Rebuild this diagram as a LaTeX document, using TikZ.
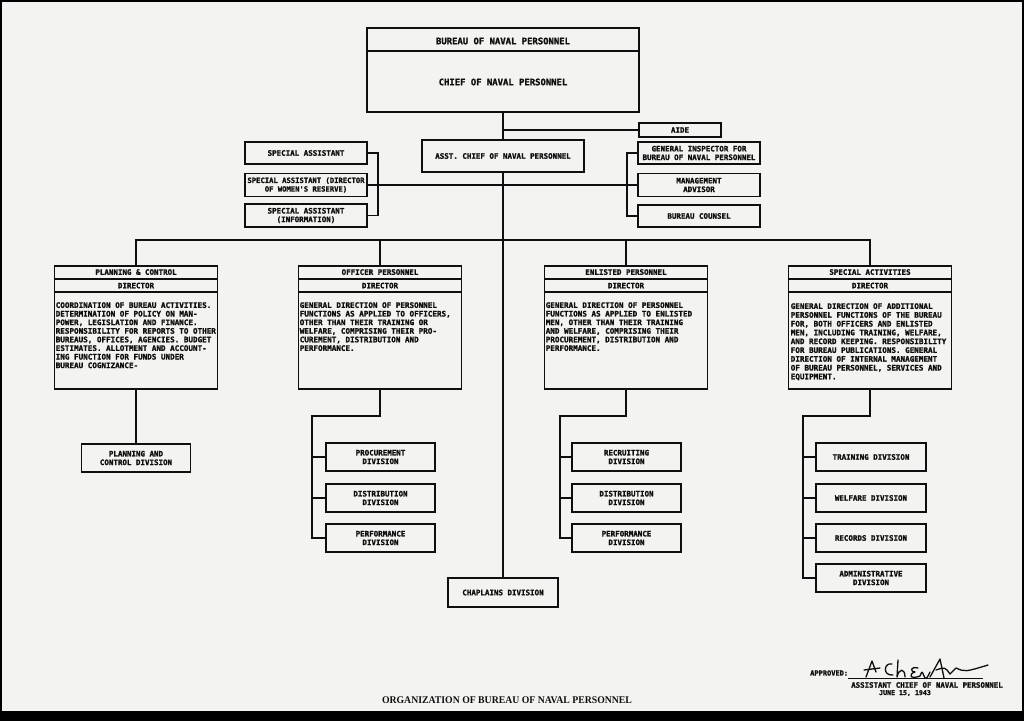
\documentclass[tikz,border=0pt]{standalone}
\usepackage{fontspec}
\usepackage{graphicx}
\setmonofont{DejaVu Sans Mono}[BoldFeatures={FakeBold=1.6}]
\newfontfamily\titlefont{Liberation Serif}
\definecolor{paper}{RGB}{243,243,241}
\definecolor{ink}{RGB}{15,15,15}
\begin{document}
\begin{tikzpicture}[x=1pt,y=-1pt,
  box/.style={draw=ink, line width=1.9pt, fill=paper, rectangle, inner sep=0pt, align=center,
              text=ink, font=\ttfamily\bfseries\fontsize{7.5}{8.6}\selectfont},
  wire/.style={draw=ink, line width=1.9pt},
  lbl/.style={inner sep=0pt, text=ink, font=\ttfamily\bfseries\fontsize{7.5}{8.6}\selectfont},
  big/.style={inner sep=0pt, text=ink, font=\ttfamily\bfseries\fontsize{8.9}{10}\selectfont},
  body/.style={inner sep=0pt, align=left, anchor=north west, text=ink,
               font=\ttfamily\bfseries\fontsize{7.6}{8.6}\selectfont},
  director/.style={box, minimum width=163pt, minimum height=123pt},
  division/.style={box, minimum width=109pt, minimum height=28pt},
  staff/.style={box, minimum width=122pt, minimum height=22pt},
]
% paper and frame
\fill[black] (0,0) rectangle (1024,721);
\fill[paper] (2,2) rectangle (1022,711);
\useasboundingbox (0,0) rectangle (1024,721);

% ---------- top ----------
\node[box, minimum width=272pt, minimum height=84pt] (top) at (503,70) {};
\draw[wire] ([yshift=-24pt]top.north west) -- ([yshift=-24pt]top.north east);
\node[big] (bnp) at (503,41) {BUREAU OF NAVAL PERSONNEL};
\node[big] (cnp) at (503,82) {CHIEF OF NAVAL PERSONNEL};

\node[box, minimum width=82pt, minimum height=14pt] (aide) at (680,130) {AIDE};
\node[box, minimum width=162pt, minimum height=32pt] (asst) at (503,156) {ASST. CHIEF OF NAVAL PERSONNEL};

\node[staff] (sa1) at (306,153) {SPECIAL ASSISTANT};
\node[staff, minimum height=23pt, font=\ttfamily\bfseries\fontsize{7.2}{8.6}\selectfont] (sa2) at (306,185) {SPECIAL ASSISTANT (DIRECTOR\\OF WOMEN'S RESERVE)};
\node[staff, minimum height=23pt] (sa3) at (306,215.5) {SPECIAL ASSISTANT\\(INFORMATION)};

\node[staff] (gi) at (699,153) {GENERAL INSPECTOR FOR\\BUREAU OF NAVAL PERSONNEL};
\node[staff, minimum height=23pt] (ma) at (699,185) {MANAGEMENT\\ADVISOR};
\node[staff] (bc) at (699,216) {BUREAU COUNSEL};

\node[box, minimum width=110pt, minimum height=29pt] (chap) at (503,592.5) {CHAPLAINS DIVISION};

\coordinate (lb) at (378,185);
\coordinate (rb) at (627,185);
\coordinate (bus) at (503,240);

% ---------- directors ----------
\node[director] (pc) at (136,327.5) {};
\node[director] (op) at (380,327.5) {};
\node[director] (ep) at (626,327.5) {};
\node[director] (sp) at (870,327.5) {};
\foreach \d in {pc,op,ep,sp}{
  \draw[wire] ([yshift=-14pt]\d.north west) -- ([yshift=-14pt]\d.north east);
  \draw[wire] ([yshift=-27pt]\d.north west) -- ([yshift=-27pt]\d.north east);
  \node[lbl] (\d dir) at ([yshift=-20.5pt]\d.north) {DIRECTOR};
}
\node[lbl] (pchead) at ([yshift=-7pt]pc.north) {PLANNING \& CONTROL};
\node[lbl] (ophead) at ([yshift=-7pt]op.north) {OFFICER PERSONNEL};
\node[lbl] (ephead) at ([yshift=-7pt]ep.north) {ENLISTED PERSONNEL};
\node[lbl] (sphead) at ([yshift=-7pt]sp.north) {SPECIAL ACTIVITIES};

\node[body] (pcbody) at ([xshift=2pt,yshift=-37pt]pc.north west) {COORDINATION OF BUREAU ACTIVITIES.\\DETERMINATION OF POLICY ON MAN-\\POWER, LEGISLATION AND FINANCE.\\RESPONSIBILITY FOR REPORTS TO OTHER\\BUREAUS, OFFICES, AGENCIES. BUDGET\\ESTIMATES.  ALLOTMENT AND ACCOUNT-\\ING FUNCTION FOR FUNDS UNDER\\BUREAU COGNIZANCE-};
\node[body] (opbody) at ([xshift=2pt,yshift=-37pt]op.north west) {GENERAL DIRECTION OF PERSONNEL\\FUNCTIONS AS APPLIED TO OFFICERS,\\OTHER THAN THEIR TRAINING OR\\WELFARE, COMPRISING THEIR PRO-\\CUREMENT, DISTRIBUTION AND\\PERFORMANCE.};
\node[body] (epbody) at ([xshift=2pt,yshift=-37pt]ep.north west) {GENERAL DIRECTION OF PERSONNEL\\FUNCTIONS AS APPLIED TO ENLISTED\\MEN, OTHER THAN THEIR TRAINING\\AND WELFARE, COMPRISING THEIR\\PROCUREMENT, DISTRIBUTION AND\\PERFORMANCE.};
\node[body, font=\ttfamily\bfseries\fontsize{7.6}{8.8}\selectfont] (spbody) at ([xshift=3pt,yshift=-38pt]sp.north west) {GENERAL DIRECTION OF ADDITIONAL\\PERSONNEL FUNCTIONS OF THE BUREAU\\FOR, BOTH OFFICERS AND ENLISTED\\MEN, INCLUDING TRAINING, WELFARE,\\AND RECORD KEEPING. RESPONSIBILITY\\FOR BUREAU PUBLICATIONS. GENERAL\\DIRECTION OF INTERNAL MANAGEMENT\\OF BUREAU PERSONNEL, SERVICES AND\\EQUIPMENT.};

% ---------- divisions ----------
\node[division] (pcdiv) at (136,458) {PLANNING AND\\CONTROL DIVISION};

\node[division] (ob1) at (380.5,457) {PROCUREMENT\\DIVISION};
\node[division] (ob2) at (380.5,498) {DISTRIBUTION\\DIVISION};
\node[division] (ob3) at (380.5,538) {PERFORMANCE\\DIVISION};

\node[division] (eb1) at (626.5,457) {RECRUITING\\DIVISION};
\node[division] (eb2) at (626.5,498) {DISTRIBUTION\\DIVISION};
\node[division] (eb3) at (626.5,538) {PERFORMANCE\\DIVISION};

\node[division, minimum width=110pt] (sb1) at (871,457) {TRAINING DIVISION};
\node[division, minimum width=110pt] (sb2) at (871,498) {WELFARE DIVISION};
\node[division, minimum width=110pt] (sb3) at (871,538) {RECORDS DIVISION};
\node[division, minimum width=110pt] (sb4) at (871,578) {ADMINISTRATIVE\\DIVISION};

\coordinate (obr) at (312,416);
\coordinate (ebr) at (560,416);
\coordinate (sbr) at (803,416);

% ---------- connectors ----------
\draw[wire] (top.south) -- (asst.north);
\draw[wire] (top.south |- aide.west) -- (aide.west);
\draw[wire] (asst.south) -- (chap.north);
\draw[wire] (sa1.east) -| (lb |- sa3.east) -- (sa3.east);
\draw[wire] (sa2.east) -- (ma.west);
\draw[wire] (gi.west) -| (rb |- bc.west) -- (bc.west);

\draw[wire] (pc.north) |- (bus) -| (sp.north);
\draw[wire] (op.north) -- (op.north |- bus);
\draw[wire] (ep.north) -- (ep.north |- bus);

\draw[wire] (pc.south) -- (pcdiv.north);

\draw[wire] (op.south) |- (obr) |- (ob3.west);
\draw[wire] (obr |- ob1.west) -- (ob1.west);
\draw[wire] (obr |- ob2.west) -- (ob2.west);

\draw[wire] (ep.south) |- (ebr) |- (eb3.west);
\draw[wire] (ebr |- eb1.west) -- (eb1.west);
\draw[wire] (ebr |- eb2.west) -- (eb2.west);

\draw[wire] (sp.south) |- (sbr) |- (sb4.west);
\draw[wire] (sbr |- sb1.west) -- (sb1.west);
\draw[wire] (sbr |- sb2.west) -- (sb2.west);
\draw[wire] (sbr |- sb3.west) -- (sb3.west);

% ---------- approval ----------
\node[lbl, anchor=west, font=\ttfamily\bfseries\fontsize{7}{8}\selectfont] (appr) at (810,673) {APPROVED:};
\coordinate (sigl) at (848,678);
\coordinate (sigr) at (983,678);
\draw[ink, line width=0.9pt] (sigl) -- (sigr);
\draw[ink, line width=1.3pt, line cap=round, line join=round]
  (866,677) -- (872,661) -- (876,672)
  (864,670) -- (880,668)
  (892,664) .. controls (884,662) and (882,676) .. (893,675)
  (898,660) -- (897,677) .. controls (899,668) and (905,668) .. (905,677)
  (918,668) .. controls (910,666) and (910,672) .. (915,672) .. controls (908,674) and (910,680) .. (920,676)
  .. controls (922,671) .. (924,676) .. controls (926,680) .. (930,672)
  (930,677) -- (940,659) -- (944,678)
  (936,670) .. controls (945,667) .. (950,674) -- (956,668) .. controls (965,672) .. (988,665);
\node[lbl, font=\ttfamily\bfseries\fontsize{7.4}{8}\selectfont] (asc) at (927,685) {ASSISTANT CHIEF OF NAVAL PERSONNEL};
\node[lbl, font=\ttfamily\bfseries\fontsize{6.6}{8}\selectfont] (date) at (905,693) {JUNE 15, 1943};

\node[inner sep=0pt, text=ink] (title) at (507,700) {\resizebox{250pt}{6.8pt}{\titlefont\bfseries ORGANIZATION OF BUREAU OF NAVAL PERSONNEL}};
\end{tikzpicture}
\end{document}
